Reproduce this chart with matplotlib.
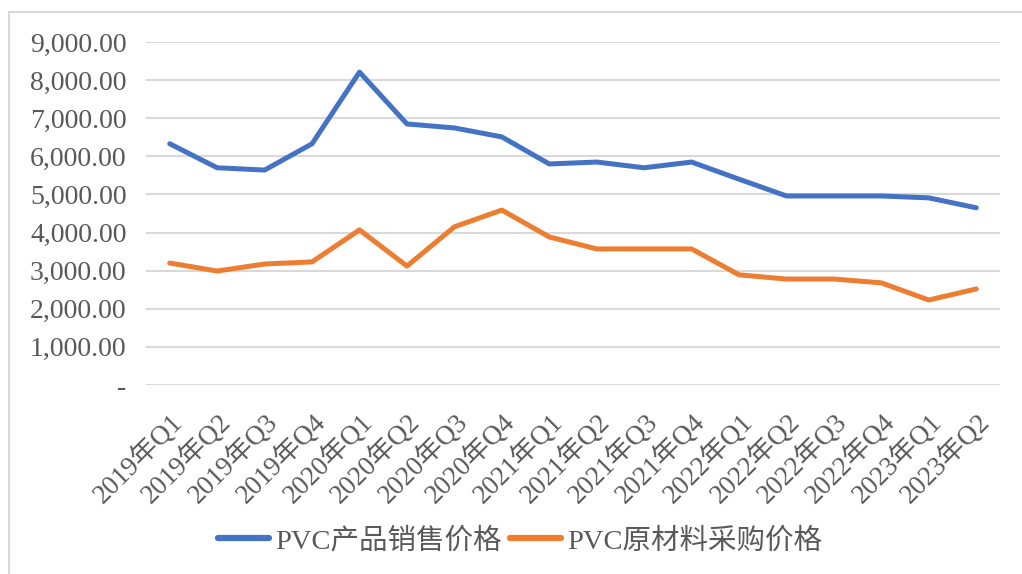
import matplotlib
matplotlib.use("Agg")
import matplotlib.pyplot as plt
from matplotlib.patches import Rectangle
from matplotlib.ticker import FuncFormatter

categories = ["2019年Q1", "2019年Q2", "2019年Q3", "2019年Q4",
              "2020年Q1", "2020年Q2", "2020年Q3", "2020年Q4",
              "2021年Q1", "2021年Q2", "2021年Q3", "2021年Q4",
              "2022年Q1", "2022年Q2", "2022年Q3", "2022年Q4",
              "2023年Q1", "2023年Q2"]
sales_price = [6330, 5700, 5640, 6330, 8210, 6850, 6745, 6510, 5800,
               5850, 5700, 5850, 5400, 4960, 4960, 4960, 4910, 4650]
material_price = [3200, 2990, 3175, 3230, 4070, 3120, 4150, 4590, 3885,
                  3570, 3570, 3570, 2890, 2780, 2780, 2680, 2230, 2520]
series_names = ["PVC产品销售价格", "PVC原材料采购价格"]
yticks = [0, 1000, 2000, 3000, 4000, 5000, 6000, 7000, 8000, 9000]

plt.rcParams['font.family'] = ['Liberation Serif', 'Noto Sans CJK SC', 'DejaVu Sans']

W, H = 1022, 574
fig = plt.figure(figsize=(W / 100, H / 100), dpi=100)
ax = fig.add_axes([146 / W, 1 - 385 / H, (1000 - 146) / W, (385 - 42) / H])

# outer border (top and left visible)
fig.patches.append(Rectangle((9 / W, -0.1), 1.2, 1 - 12 / H + 0.1, transform=fig.transFigure,
                             fill=False, edgecolor='#d9d9d9', linewidth=1.5))

x = list(range(len(categories)))
ax.plot(x, sales_price, color='#4472C4', linewidth=3.6, solid_capstyle='round',
        solid_joinstyle='round', label=series_names[0])
ax.plot(x, material_price, color='#ED7D31', linewidth=3.6, solid_capstyle='round',
        solid_joinstyle='round', label=series_names[1])

ax.set_xlim(-0.5, len(categories) - 0.5)
ax.set_ylim(0, 9000)
ax.set_yticks(yticks)
ax.yaxis.set_major_formatter(FuncFormatter(lambda v, p: '-' if v == 0 else f'{v:,.2f}'))
ax.grid(axis='y', color='#d9d9d9', linewidth=1.5)
ax.set_axisbelow(True)
for s in ax.spines.values():
    s.set_visible(False)
ax.tick_params(axis='both', length=0, colors='#595959')
ax.tick_params(axis='y', pad=14, labelsize=20)
ax.set_xticks(x)
ax.set_xticklabels(categories, rotation=45, ha='right', va='top', rotation_mode='anchor')
ax.tick_params(axis='x', pad=17, labelsize=19.5)

leg = fig.legend(loc='center', bbox_to_anchor=(520 / W, 1 - 541 / H), ncol=2, frameon=False,
                 fontsize=20.5, handlelength=1.8, handletextpad=0.2, columnspacing=0.3,
                 labelcolor='#595959')
for line in leg.get_lines():
    line.set_linewidth(4.5)

fig.savefig('out.png', dpi=100)
